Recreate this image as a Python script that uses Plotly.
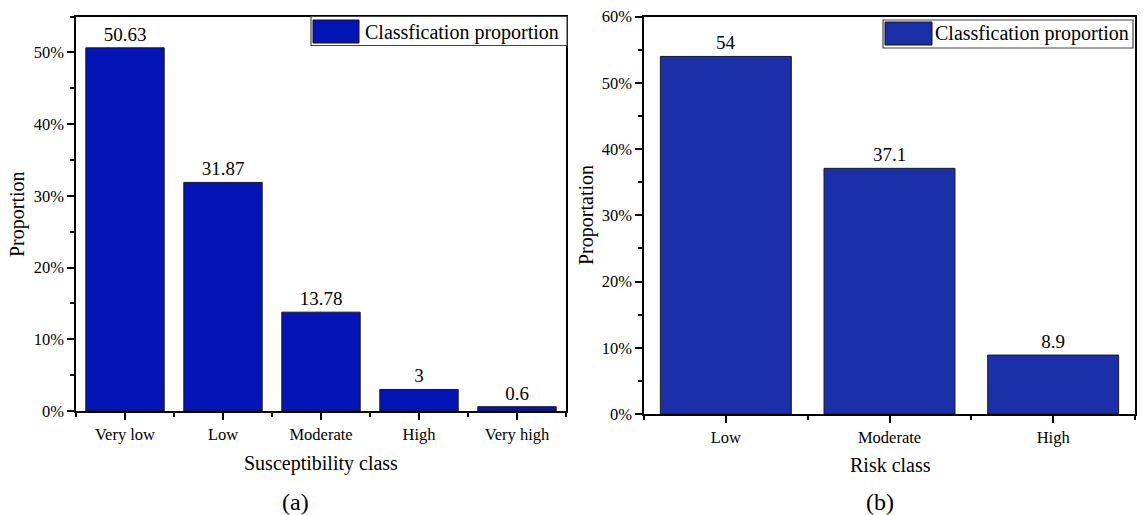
import plotly.graph_objects as go

# ---- data ----
susc_classes = ["Very low", "Low", "Moderate", "High", "Very high"]
susc_values = [50.63, 31.87, 13.78, 3, 0.6]
risk_classes = ["Low", "Moderate", "High"]
risk_values = [54, 37.1, 8.9]
y_ticks_a = [0, 10, 20, 30, 40, 50]
y_ticks_b = [0, 10, 20, 30, 40, 50, 60]
legend_label = "Classfication proportion"

W, H = 1146, 515
FONT = "Liberation Serif"
COL_A = "#0414B6"
COL_B = "#1A2FA8"


def px(x):
    return x / W


def py(y):
    return 1 - y / H


fig = go.Figure()
fig.add_trace(go.Bar(
    x=list(range(len(susc_classes))), y=susc_values, width=0.8,
    marker=dict(color=COL_A, line=dict(color="#1a1a1a", width=1)),
    text=[f"{v:g}" for v in susc_values], textposition="outside",
    textfont=dict(family=FONT, size=19, color="black"),
    constraintext="none", cliponaxis=False, showlegend=False,
    xaxis="x", yaxis="y"))
fig.add_trace(go.Bar(
    x=list(range(len(risk_classes))), y=risk_values, width=0.8,
    marker=dict(color=COL_B, line=dict(color="#1a1a1a", width=1)),
    text=[f"{v:g}" for v in risk_values], textposition="outside",
    textfont=dict(family=FONT, size=19, color="black"),
    constraintext="none", cliponaxis=False, showlegend=False,
    xaxis="x2", yaxis="y2"))

axis_common = dict(showline=True, linecolor="black", linewidth=1.5, mirror=True,
                   showgrid=False, zeroline=False, ticks="outside",
                   tickcolor="black", tickwidth=1.5, ticklen=7,
                   tickfont=dict(family=FONT, size=16.5, color="black"))

fig.update_layout(
    width=W, height=H, margin=dict(l=0, r=0, t=0, b=0, autoexpand=False),
    paper_bgcolor="white", plot_bgcolor="white",
    showlegend=False, bargap=0.2,
    xaxis=dict(domain=[px(76), px(566)], range=[-0.5, len(susc_classes) - 0.5],
               autorange=False,
               tickmode="array",
               tickvals=list(range(len(susc_classes))), ticktext=susc_classes,
               minor=dict(ticks="outside", ticklen=4, tick0=0.5, dtick=1,
                          tickcolor="black", tickwidth=1.5),
               anchor="y", automargin=False, **axis_common),
    yaxis=dict(domain=[py(411), py(16.5)], range=[0, 55], autorange=False,
               tickmode="array",
               tickvals=y_ticks_a, ticktext=[f"{v}%" for v in y_ticks_a],
               minor=dict(ticks="outside", ticklen=4, tick0=0, dtick=5,
                          tickcolor="black", tickwidth=1.5),
               anchor="x", automargin=False, **axis_common),
    xaxis2=dict(domain=[px(644), px(1135)], range=[-0.5, len(risk_classes) - 0.5],
                autorange=False,
                tickmode="array",
                tickvals=list(range(len(risk_classes))), ticktext=risk_classes,
                minor=dict(ticks="outside", ticklen=4, tick0=0.5, dtick=1,
                           tickcolor="black", tickwidth=1.5),
                anchor="y2", automargin=False, **axis_common),
    yaxis2=dict(domain=[py(414), py(16.7)], range=[0, 60], autorange=False,
                tickmode="array",
                tickvals=y_ticks_b, ticktext=[f"{v}%" for v in y_ticks_b],
                minor=dict(ticks="outside", ticklen=4, tick0=0, dtick=5,
                           tickcolor="black", tickwidth=1.5),
                anchor="x2", automargin=False, **axis_common),
)

annots = [
    dict(text="Proportion", x=px(18), y=py(214), textangle=-90, size=20),
    dict(text="Susceptibility class", x=px(321), y=py(463), textangle=0, size=20),
    dict(text="(a)", x=px(295), y=py(502), textangle=0, size=24),
    dict(text="Proportation", x=px(586), y=py(215), textangle=-90, size=20),
    dict(text="Risk class", x=px(890), y=py(465), textangle=0, size=20),
    dict(text="(b)", x=px(880), y=py(502), textangle=0, size=24),
]
for a in annots:
    fig.add_annotation(text=a["text"], x=a["x"], y=a["y"], xref="paper", yref="paper",
                       xanchor="center", yanchor="middle", showarrow=False,
                       textangle=a["textangle"],
                       font=dict(family=FONT, size=a["size"], color="black"))

# legend boxes drawn as layout decoration
legends = [
    dict(box=(311, 16.5, 567, 45.5), sw=(313, 20, 359, 43), tx=363, ty=32, col=COL_A),
    dict(box=(883, 20, 1133, 48), sw=(885, 22, 932, 45), tx=933, ty=34, col=COL_B),
]
for lg in legends:
    x0, y0, x1, y1 = lg["box"]
    fig.add_shape(type="rect", xref="paper", yref="paper", x0=px(x0), x1=px(x1),
                  y0=py(y1), y1=py(y0), line=dict(color="#444444", width=1.2),
                  fillcolor="white", layer="above")
    s0, t0, s1, t1 = lg["sw"]
    fig.add_shape(type="rect", xref="paper", yref="paper", x0=px(s0), x1=px(s1),
                  y0=py(t1), y1=py(t0), line=dict(color="#111111", width=1),
                  fillcolor=lg["col"], layer="above")
    fig.add_annotation(text=legend_label, x=px(lg["tx"]), y=py(lg["ty"]),
                       xref="paper", yref="paper", xanchor="left", yanchor="middle",
                       showarrow=False, font=dict(family=FONT, size=20, color="black"))

fig.write_html("out.html")
